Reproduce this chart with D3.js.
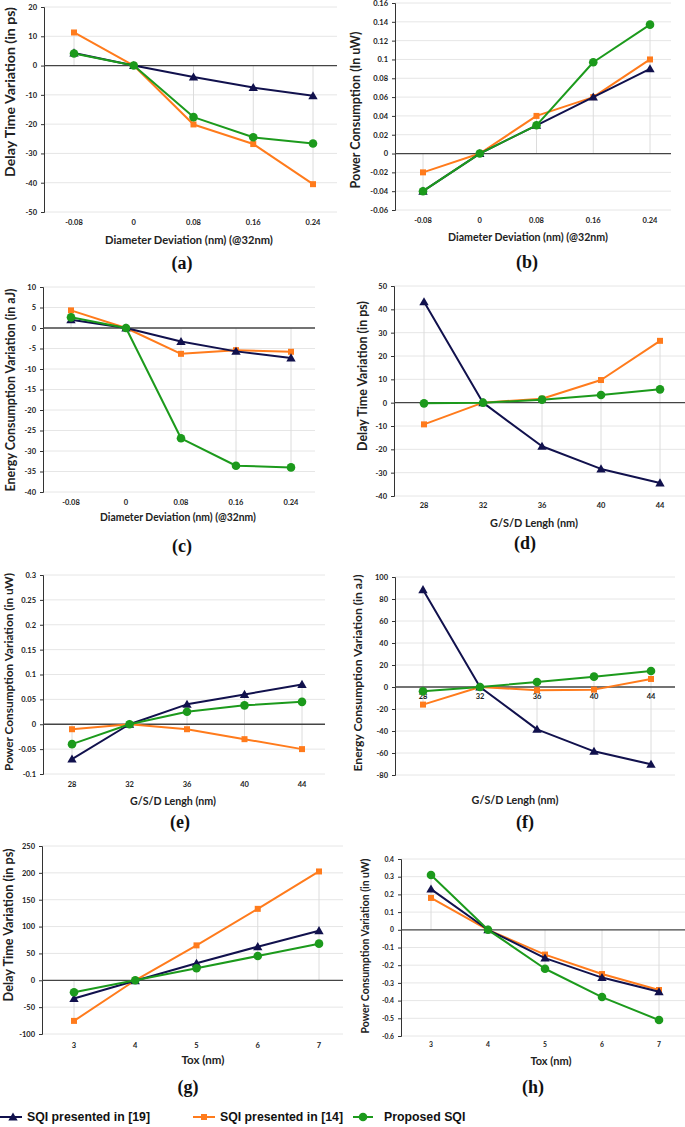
<!DOCTYPE html>
<html><head><meta charset="utf-8">
<script src="https://cdn.jsdelivr.net/npm/d3@7/dist/d3.min.js"></script>
<style>body{margin:0;background:#fff}svg{display:block}</style>
</head><body>
<svg id="c" width="685" height="1127"></svg>
<script>
// ---------------- DATA ----------------
const seriesNames = ["SQI presented in [19]", "SQI presented in [14]", "Proposed SQI"];
const diamCats = ["-0.08", "0", "0.08", "0.16", "0.24"];
const lenCats  = ["28", "32", "36", "40", "44"];
const toxCats  = ["3", "4", "5", "6", "7"];

// (a) Delay vs diameter
const aRef19 = [4.3, 0, -3.9, -7.5, -10.3];
const aRef14 = [11.3, 0, -20.1, -26.8, -40.5];
const aProp  = [4.1, 0, -17.6, -24.5, -26.6];
const aTicks = [20, 10, 0, -10, -20, -30, -40, -50];
// (b) Power vs diameter
const bRef19 = [-0.04, 0, 0.03, 0.06, 0.09];
const bRef14 = [-0.02, 0, 0.04, 0.06, 0.1];
const bProp  = [-0.04, 0, 0.03, 0.097, 0.137];
const bTicks = [0.16, 0.14, 0.12, 0.1, 0.08, 0.06, 0.04, 0.02, 0, -0.02, -0.04, -0.06];
// (c) Energy vs diameter
const cRef19 = [2.0, 0, -3.3, -5.7, -7.3];
const cRef14 = [4.3, 0, -6.3, -5.4, -5.8];
const cProp  = [2.6, 0, -26.9, -33.6, -34.0];
const cTicks = [10, 5, 0, -5, -10, -15, -20, -25, -30, -35, -40];
// (d) Delay vs length
const dRef19 = [43.2, 0, -18.7, -28.4, -34.4];
const dRef14 = [-9.3, 0, 1.7, 9.7, 26.5];
const dProp  = [-0.3, 0, 1.3, 3.3, 5.7];
const dTicks = [50, 40, 30, 20, 10, 0, -10, -20, -30, -40];
// (e) Power vs length
const eRef19 = [-0.07, 0, 0.04, 0.06, 0.08];
const eRef14 = [-0.01, 0, -0.01, -0.03, -0.05];
const eProp  = [-0.04, 0, 0.025, 0.038, 0.045];
const eTicks = [0.3, 0.25, 0.2, 0.15, 0.1, 0.05, 0, -0.05, -0.1];
// (f) Energy vs length
const fRef19 = [88.5, 0, -38.5, -58.5, -70.3];
const fRef14 = [-16, 0, -3, -2.4, 7.3];
const fProp  = [-3.9, 0, 4.5, 9.4, 14.5];
const fTicks = [100, 80, 60, 40, 20, 0, -20, -40, -60, -80];
// (g) Delay vs Tox
const gRef19 = [-34, -1, 31.6, 62.6, 92.3];
const gRef14 = [-75.6, 0, 65, 133, 202.6];
const gProp  = [-22.3, 0, 22.3, 45.2, 68.2];
const gTicks = [250, 200, 150, 100, 50, 0, -50, -100];
// (h) Power vs Tox
const hRef19 = [0.23, 0, -0.16, -0.27, -0.35];
const hRef14 = [0.18, 0, -0.14, -0.25, -0.34];
const hProp  = [0.31, 0, -0.22, -0.38, -0.51];
const hTicks = [0.4, 0.3, 0.2, 0.1, 0, -0.1, -0.2, -0.3, -0.4, -0.5, -0.6];

// ---------------- STYLE ----------------
const colors = ["#11114d", "#ff7b1c", "#1c9a1c"];
const markers = ["triangle", "square", "circle"];
const drawOrder = [1, 0, 2];
const tickFont = "Lato, 'Open Sans', sans-serif";

const panels = [
  {id:"(a)", cats:diamCats, s:[aRef19,aRef14,aProp], ticks:aTicks, yTitle:"Delay Time Variation (in ps)", xTitle:"Diameter Deviation (nm) (@32nm)",
   axisX:44, yTop:7, yBot:212, xFirst:74, xLast:313, gridRight:337, xTickY:222, xTitleY:239, xTitleCx:189, labY:263, labCx:182, yTitleX:9, yTitleCy:92, yLen:170, xLen:168, tfs:7.5},
  {id:"(b)", cats:diamCats, s:[bRef19,bRef14,bProp], ticks:bTicks, yTitle:"Power Consumption (In uW)", xTitle:"Diameter Deviation (nm) (@32nm)",
   axisX:395, yTop:3, yBot:210, xFirst:423, xLast:650, gridRight:671, xTickY:220, xTitleY:237, xTitleCx:528, labY:262, labCx:527, yTitleX:355, yTitleCy:110, yLen:157, xLen:160, tfs:7.5},
  {id:"(c)", cats:diamCats, s:[cRef19,cRef14,cProp], ticks:cTicks, yTitle:"Energy Consumption Variation  (in aJ)", xTitle:"Diameter Deviation (nm) (@32nm)",
   axisX:43, yTop:287, yBot:492, xFirst:71, xLast:291, gridRight:315, xTickY:502, xTitleY:517, xTitleCx:178, labY:546, labCx:182, yTitleX:10, yTitleCy:390, yLen:203, xLen:156, tfs:7.5},
  {id:"(d)", cats:lenCats, s:[dRef19,dRef14,dProp], ticks:dTicks, yTitle:"Delay Time Variation (in ps)", xTitle:"G/S/D Lengh (nm)",
   axisX:394, yTop:286, yBot:496, xFirst:424, xLast:660, gridRight:685, xTickY:505, xTitleY:522, xTitleCx:534, labY:543, labCx:525, yTitleX:362, yTitleCy:376, yLen:150, xLen:88, tfs:7.5},
  {id:"(e)", cats:lenCats, s:[eRef19,eRef14,eProp], ticks:eTicks, yTitle:"Power Consumption Variation (in uW)", xTitle:"G/S/D Lengh (nm)",
   axisX:43, yTop:575, yBot:774, xFirst:72, xLast:302, gridRight:325, xTickY:784, xTitleY:800, xTitleCx:173, labY:822, labCx:180, yTitleX:8, yTitleCy:672, yLen:198, xLen:86, tfs:7.5},
  {id:"(f)", cats:lenCats, s:[fRef19,fRef14,fProp], ticks:fTicks, yTitle:"Energy Consumption Variation  (in aJ)", xTitle:"G/S/D Lengh (nm)",
   axisX:395, yTop:577, yBot:775, xFirst:423, xLast:651, gridRight:675, xTickY:696, xTitleY:799, xTitleCx:515, labY:822, labCx:525, yTitleX:357, yTitleCy:673, yLen:197, xLen:87, tfs:7.5},
  {id:"(g)", cats:toxCats, s:[gRef19,gRef14,gProp], ticks:gTicks, yTitle:"Delay Time Variation (in ps)", xTitle:"Tox (nm)",
   axisX:42, yTop:846, yBot:1034, xFirst:74, xLast:319, gridRight:343, xTickY:1045, xTitleY:1059, xTitleCx:203, labY:1087, labCx:188, yTitleX:7.5, yTitleCy:925, yLen:153, xLen:43, tfs:7.5},
  {id:"(h)", cats:toxCats, s:[hRef19,hRef14,hProp], ticks:hTicks, yTitle:"Power Consumption Variation (in uW)", xTitle:"Tox (nm)",
   axisX:401, yTop:859, yBot:1036, xFirst:431, xLast:659, gridRight:685, xTickY:1044, xTitleY:1060, xTitleCx:551, labY:1087, labCx:533, yTitleX:365, yTitleCy:946, yLen:175, xLen:41, tfs:6.8}
];

const svg = d3.select("#c");

function marker(g, type, color, cx, cy) {
  if (type === "circle") {
    g.append("circle").attr("cx", cx).attr("cy", cy).attr("r", 4.3).attr("fill", color);
  } else {
    const sym = type === "triangle" ? d3.symbolTriangle : d3.symbolSquare;
    const size = type === "triangle" ? 38 : 36;
    const dy = type === "triangle" ? 0.8 : 0;
    g.append("path").attr("d", d3.symbol().type(sym).size(size)())
      .attr("transform", `translate(${cx},${cy + dy})`).attr("fill", color);
  }
}

// set font size so that the text reaches a target length
function fitText(sel, target) {
  const base = 10;
  sel.attr("font-size", base);
  const len = sel.node().getComputedTextLength();
  sel.attr("font-size", (base * target / len).toFixed(2));
}

panels.forEach(p => {
  const g = svg.append("g");
  const y = d3.scaleLinear().domain([d3.min(p.ticks), d3.max(p.ticks)]).range([p.yBot, p.yTop]);
  const x = d3.scalePoint().domain(p.cats).range([p.xFirst, p.xLast]);

  // gridlines
  g.selectAll(".grid").data(p.ticks.filter(t => t !== 0)).join("line")
    .attr("x1", p.axisX).attr("x2", p.gridRight)
    .attr("y1", d => y(d)).attr("y2", d => y(d))
    .attr("stroke", "#e6e6e6").attr("stroke-width", 1);

  // drop lines from zero to each point
  p.cats.forEach((c, i) => {
    const vals = p.s.map(s => s[i]).concat([0]);
    g.append("line").attr("x1", x(c)).attr("x2", x(c))
      .attr("y1", y(d3.max(vals))).attr("y2", y(d3.min(vals)))
      .attr("stroke", "#dcdcdc").attr("stroke-width", 1);
  });

  // y axis
  const ax = g.append("g").attr("transform", `translate(${p.axisX},0)`)
    .call(d3.axisLeft(y).tickValues(p.ticks).tickSize(3).tickPadding(4).tickFormat(d => String(+d.toFixed(4))));
  ax.select(".domain").attr("stroke", "#333").attr("stroke-width", 1);
  ax.selectAll(".tick line").attr("stroke", "#333");
  ax.selectAll(".tick text").attr("font-family", tickFont).attr("font-weight", 700)
    .attr("font-size", p.tfs).attr("fill", "#222");

  // zero line
  g.append("line").attr("x1", p.axisX).attr("x2", p.gridRight)
    .attr("y1", y(0)).attr("y2", y(0)).attr("stroke", "#444").attr("stroke-width", 1.3);

  // x tick labels
  g.selectAll(".xt").data(p.cats).join("text")
    .attr("x", d => x(d)).attr("y", p.xTickY).attr("text-anchor", "middle")
    .attr("dominant-baseline", "central")
    .attr("font-family", tickFont).attr("font-weight", 700).attr("font-size", p.tfs).attr("fill", "#222")
    .text(d => d);

  // series
  drawOrder.forEach(si => {
    const vals = p.s[si];
    const line = d3.line().x((d, i) => x(p.cats[i])).y(d => y(d));
    g.append("path").datum(vals).attr("d", line).attr("fill", "none")
      .attr("stroke", colors[si]).attr("stroke-width", 2).attr("stroke-linejoin", "round");
    vals.forEach((v, i) => marker(g, markers[si], colors[si], x(p.cats[i]), y(v)));
  });

  // titles
  const xt = g.append("text").attr("x", p.xTitleCx).attr("y", p.xTitleY).attr("text-anchor", "middle")
    .attr("dominant-baseline", "central").attr("font-family", tickFont).attr("font-weight", 700)
    .attr("fill", "#222").text(p.xTitle);
  fitText(xt, p.xLen);
  const yt = g.append("text").attr("transform", `translate(${p.yTitleX},${p.yTitleCy}) rotate(-90)`)
    .attr("text-anchor", "middle").attr("dominant-baseline", "central")
    .attr("font-family", tickFont).attr("font-weight", 700)
    .attr("fill", "#222").text(p.yTitle);
  fitText(yt, p.yLen);
  g.append("text").attr("x", p.labCx).attr("y", p.labY).attr("text-anchor", "middle")
    .attr("dominant-baseline", "central").attr("font-family", "'Liberation Serif', 'Times New Roman', serif")
    .attr("font-weight", 700).attr("font-size", 18).attr("fill", "#111").text(p.id);
});

// legend
const legendX = [[0, 22, 25], [193, 215, 218], [353, 373, 382]];
const lg = svg.append("g");
seriesNames.forEach((name, i) => {
  const [x1, x2, tx] = legendX[i];
  const ly = 1117;
  lg.append("line").attr("x1", x1).attr("x2", x2).attr("y1", ly).attr("y2", ly)
    .attr("stroke", colors[i]).attr("stroke-width", 2);
  marker(lg, markers[i], colors[i], (x1 + x2) / 2 + (i === 0 ? 2 : 0), ly);
  lg.append("text").attr("x", tx + 2).attr("y", ly).attr("dominant-baseline", "central")
    .attr("font-family", "'Liberation Sans', Arial, sans-serif").attr("font-weight", 700)
    .attr("font-size", 12.3).attr("fill", "#111").text(name);
});
</script>
</body></html>
